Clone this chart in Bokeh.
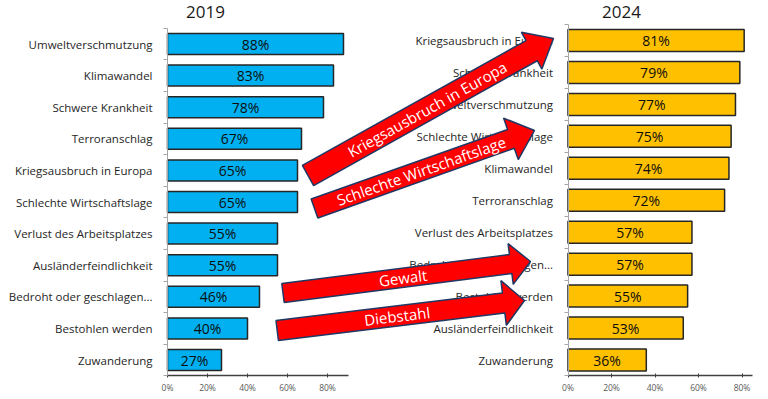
import math
import numpy as np
from bokeh.plotting import figure
from bokeh.models import (ColumnDataSource, Range1d, LinearAxis, FixedTicker,
                          PrintfTickFormatter, Label)
from bokeh.core.properties import value
from bokeh.embed import file_html
from bokeh.resources import INLINE

# ---------------- data ----------------
categories_2019 = ["Umweltverschmutzung", "Klimawandel", "Schwere Krankheit",
                   "Terroranschlag", "Kriegsausbruch in Europa",
                   "Schlechte Wirtschaftslage", "Verlust des Arbeitsplatzes",
                   "Ausländerfeindlichkeit", "Bedroht oder geschlagen...",
                   "Bestohlen werden", "Zuwanderung"]
values_2019 = [88, 83, 78, 67, 65, 65, 55, 55, 46, 40, 27]

categories_2024 = ["Kriegsausbruch in Europa", "Schwere Krankheit",
                   "Umweltverschmutzung", "Schlechte Wirtschaftslage",
                   "Klimawandel", "Terroranschlag", "Verlust des Arbeitsplatzes",
                   "Bedroht oder geschlagen...", "Bestohlen werden",
                   "Ausländerfeindlichkeit", "Zuwanderung"]
values_2024 = [81, 79, 77, 75, 74, 72, 57, 57, 55, 53, 36]

x_ticks = [0, 20, 40, 60, 80]
titles = ["2019", "2024"]
arrow_labels = ["Kriegsausbruch in Europa", "Schlechte Wirtschaftslage",
                "Gewalt", "Diebstahl"]

# ---------------- layout (pixels) ----------------
W, H = 768, 399
FONT = "Open Sans"

p = figure(width=W, height=H, output_backend="svg", toolbar_location=None,
           x_axis_type=None, y_axis_type=None,
           x_range=Range1d(0, W), y_range=Range1d(H, 0),
           min_border=0, outline_line_color=None)
p.background_fill_color = "white"
p.border_fill_color = "white"


def x_range_for(px0, ppu):
    return Range1d(-px0 / ppu, (W - px0) / ppu)


def y_range_for(c0, step):
    return Range1d(start=(H - c0) / step, end=-c0 / step)


p.extra_x_ranges = {"x19": x_range_for(167, 2.0), "x24": x_range_for(567.5, 2.175)}
p.extra_y_ranges = {"y19": y_range_for(43.5, 31.6), "y24": y_range_for(40.0, 31.95)}

charts = [
    ("x19", "y19", categories_2019, values_2019, "#00B0F0", 0.665, 90.5),
    ("x24", "y24", categories_2024, values_2024, "#FFC000", 0.69, 84.8),
]

for xr, yr, cats, vals, color, bh, xmax in charts:
    n = len(cats)
    idx = np.arange(n)
    src = ColumnDataSource(dict(
        y=idx, v=vals, mid=[v / 2 for v in vals], lab=[f"{v}%" for v in vals]))
    p.hbar(y="y", left=0, right="v", height=bh, source=src,
           x_range_name=xr, y_range_name=yr,
           fill_color=color, line_color="#262626", line_width=1.5)
    p.text(x="mid", y="y", text="lab", source=src,
           x_range_name=xr, y_range_name=yr,
           text_align="center", text_baseline="middle",
           text_font=value(FONT), text_font_size="14px", text_color="#0d0d0d")

    # category axis
    ya = LinearAxis(x_range_name=xr, y_range_name=yr, fixed_location=0,
                    ticker=FixedTicker(ticks=list(range(n)),
                                       minor_ticks=[i - 0.5 for i in range(n + 1)]),
                    major_label_overrides={i: c for i, c in enumerate(cats)},
                    bounds=(-0.5, n - 0.5))
    ya.major_tick_out = 0
    ya.major_tick_in = 0
    ya.minor_tick_out = 4
    ya.minor_tick_in = 0
    ya.axis_line_color = "#A6A6A6"
    ya.minor_tick_line_color = "#A6A6A6"
    ya.major_label_standoff = 11
    ya.major_label_text_font = FONT
    ya.major_label_text_font_size = "11.5px"
    ya.major_label_text_color = "#262626"
    p.add_layout(ya, "left")

    # value axis
    xa = LinearAxis(x_range_name=xr, y_range_name=yr, fixed_location=n - 0.5,
                    ticker=FixedTicker(ticks=x_ticks),
                    formatter=PrintfTickFormatter(format="%d%%"),
                    bounds=(0, xmax))
    xa.axis_line_color = "#404040"
    xa.axis_line_width = 1.5
    xa.major_tick_in = 2
    xa.major_tick_out = 2
    xa.major_tick_line_color = "#404040"
    xa.minor_tick_line_color = None
    xa.major_label_standoff = 4
    xa.major_label_text_font = FONT
    xa.major_label_text_font_size = "8.5px"
    xa.major_label_text_color = "#595959"
    p.add_layout(xa, "below")

# titles
for t, tx in zip(titles, [205, 621]):
    p.add_layout(Label(x=tx, y=11, text=t, text_align="center",
                       text_baseline="middle", text_font=FONT,
                       text_font_size="17px", text_color="#1a1a1a"))

# ---------------- arrows (annotation geometry, pixels) ----------------
arrow_geom = [
    # tail (x, y), tip (x, y), shaft width, head width, head length
    ((307.5, 175.0), (553.0, 38.0), 23, 42, 25),
    ((314.0, 208.0), (534.0, 130.0), 20, 44, 25),
    ((282.5, 292.5), (530.0, 261.0), 19, 41, 20),
    ((276.7, 330.0), (524.0, 300.0), 20, 45, 21),
]
axs, ays, tx_, ty_, ta_ = [], [], [], [], []
for (t, tip, w, hw, hl) in arrow_geom:
    dx, dy = tip[0] - t[0], tip[1] - t[1]
    L = math.hypot(dx, dy)
    ux, uy = dx / L, dy / L
    nx, ny = -uy, ux
    bx, by = tip[0] - ux * hl, tip[1] - uy * hl
    pts = [(t[0] + nx * w / 2, t[1] + ny * w / 2),
           (bx + nx * w / 2, by + ny * w / 2),
           (bx + nx * hw / 2, by + ny * hw / 2),
           tip,
           (bx - nx * hw / 2, by - ny * hw / 2),
           (bx - nx * w / 2, by - ny * w / 2),
           (t[0] - nx * w / 2, t[1] - ny * w / 2)]
    axs.append([q[0] for q in pts])
    ays.append([q[1] for q in pts])
    tx_.append(t[0] + dx * 0.485)
    ty_.append(t[1] + dy * 0.485)
    ta_.append(math.atan2(-dy, dx))

p.patches(xs=axs, ys=ays, fill_color="#FF0000", line_color="#1F3864",
          line_width=1.5, level="overlay")
p.text(x=tx_, y=ty_, text=arrow_labels, angle=ta_, text_align="center",
       text_baseline="middle", text_color="white", text_font=value(FONT),
       text_font_size="15px", level="overlay")

open("out.html", "w").write(file_html(p, INLINE))
